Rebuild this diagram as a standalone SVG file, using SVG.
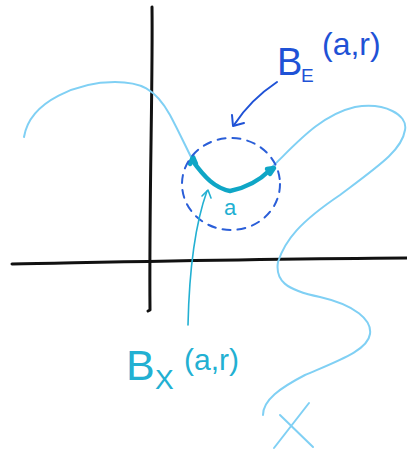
<svg xmlns="http://www.w3.org/2000/svg" width="407" height="452" viewBox="0 0 407 452">
<style>
.axis{fill:none;stroke:#111;stroke-width:3;stroke-linecap:round;stroke-linejoin:round}
.curve{fill:none;stroke:#80d0f4;stroke-width:2;stroke-linecap:round}
.ball{fill:none;stroke:#0fa6c6;stroke-width:4.5;stroke-linecap:round;stroke-linejoin:round}
.dash{fill:none;stroke:#2a5ed8;stroke-width:2;stroke-dasharray:8 7;stroke-linecap:round}
.ptr-e{fill:none;stroke:#1f52d6;stroke-width:2;stroke-linecap:round;stroke-linejoin:round}
.ptr-x{fill:none;stroke:#22b0d2;stroke-width:1.6;stroke-linecap:round;stroke-linejoin:round}
.te{fill:#1f52d6;font-family:"Liberation Sans",Arial,sans-serif}
.tx{fill:#22b0d2;font-family:"Liberation Sans",Arial,sans-serif}
</style>
<rect width="407" height="452" fill="#fff"/>
<g id="axes">
<path class="axis" d="M152 7 C153 80 149 200 150 310 L148 311"/>
<path class="axis" d="M12 264 C120 262 250 259 407 258"/>
</g>
<g id="space-X">
<path class="curve" d="M24 137 C30 100 80 82 115 82 C140 82 155 88 170 115 C178 130 185 145 191 157"/>
<path class="curve" d="M272 167 C295 145 320 115 355 107 C385 102 408 115 405 130 C402 150 380 165 340 195 C300 222 285 240 278 262 C275 280 285 290 320 297 C355 305 372 320 370 334 C368 350 340 360 305 375 C280 388 263 400 263 415"/>
<path class="curve" d="M280 415 L313 447 M309 403 L274 448"/>
</g>
<g id="ball-BX">
<path class="ball" d="M192 160 C205 178 215 188 230 191 C245 188 258 182 270 170"/>
<path class="ball" d="M190 164 L193 157 L196 164 M267 169 L274 168 L270 174"/>
</g>
<g id="ball-BE">
<ellipse class="dash" cx="231" cy="184" rx="49" ry="46"/>
</g>
<g id="point-a">
<text class="tx" x="224" y="215" font-size="22">a</text>
</g>
<g id="label-BE">
<text class="te" x="277" y="75" font-size="38">B</text>
<text class="te" x="301" y="82" font-size="19">E</text>
<text class="te" x="322" y="55" font-size="32">(a,r)</text>
</g>
<g id="label-BX">
<text class="tx" x="126" y="380" font-size="43">B</text>
<text class="tx" x="155" y="389" font-size="28">X</text>
<text class="tx" x="184" y="370" font-size="30">(a,r)</text>
</g>
<g id="connectors">
<path class="ptr-e" d="M277 82 C262 92 245 108 234 125"/>
<path class="ptr-e" d="M232 115 L233 126 L244 123"/>
<path class="ptr-x" d="M188 325 C189 280 193 230 207 191"/>
<path class="ptr-x" d="M202 196 L208 190 L211 198"/>
</g>
</svg>
